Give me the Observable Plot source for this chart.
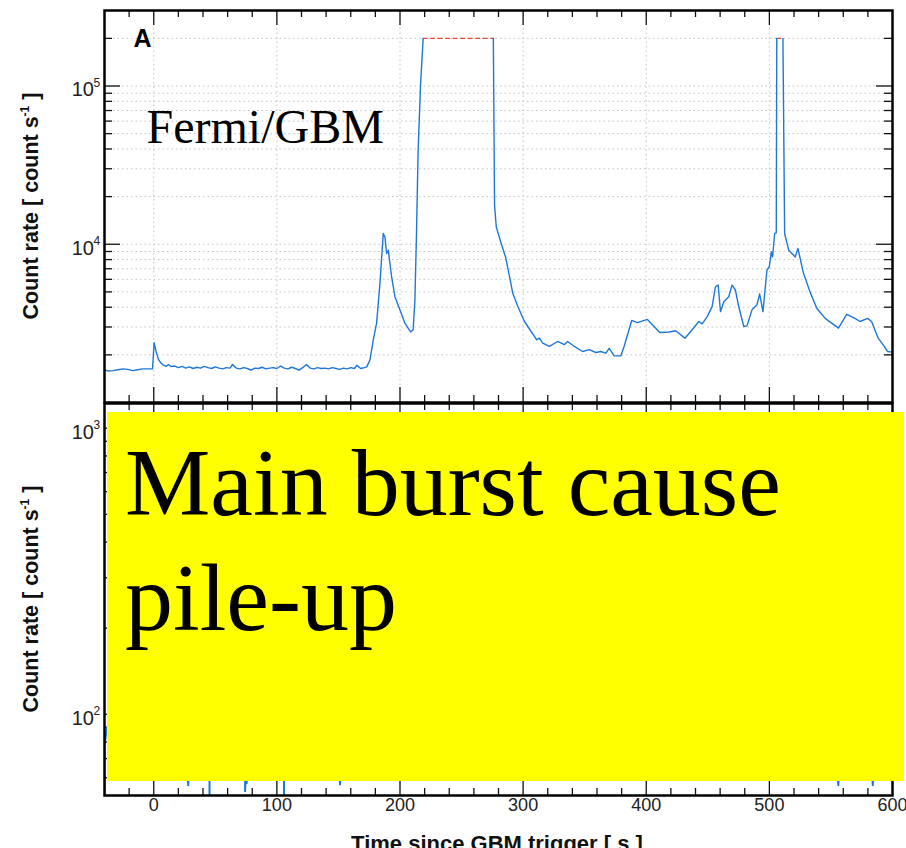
<!DOCTYPE html>
<html>
<head>
<meta charset="utf-8">
<script src="https://cdn.jsdelivr.net/npm/d3@7"></script>
<script src="https://cdn.jsdelivr.net/npm/@observablehq/plot@0.6"></script>
<style>
  html, body { margin: 0; padding: 0; background: #fff; overflow: hidden; }
  #wrap { position: relative; width: 906px; height: 848px; background: #fff; overflow: hidden; font-family: "Liberation Sans", Arial, Helvetica, sans-serif; }
  .panel { position: absolute; left: 0; }
  .ytitle { position: absolute; transform: translate(-50%, -50%) rotate(-90deg); white-space: nowrap; font-weight: bold; font-size: 21.5px; color: #111; }
  .ytitle sup { font-size: 12px; }
  .xtitle { position: absolute; left: 497px; top: 833px; transform: translateX(-50%); white-space: nowrap; font-weight: bold; font-size: 22px; line-height: 22px; color: #111; }
  #note { position: absolute; left: 107px; top: 412px; width: 797px; height: 369px; background: #ffff00; font-family: "Liberation Serif", "Times New Roman", serif; font-size: 96px; line-height: 115px; color: #000; box-sizing: border-box; padding: 13px 0 0 18px; white-space: nowrap; }
</style>
</head>
<body>
<div id="wrap">
  <div id="top" class="panel" style="top:0px"></div>
  <div id="bottom" class="panel" style="top:402px"></div>
  <div class="ytitle" style="left:31px; top:206px">Count rate [ count s<sup>-1</sup> ]</div>
  <div class="ytitle" style="left:31px; top:599px">Count rate [ count s<sup>-1</sup> ]</div>
  <div class="xtitle">Time since GBM trigger [ s ]</div>
  <div id="note">Main burst cause<br>pile-up</div>
</div>
<script>
// ---- Data ----
// Fermi/GBM light curve (null = saturated interval, drawn as red dashed level)
const topTime = [
  -40, -37, -33, -29, -25, -21, -17, -13, -9, -5, -1,
  0.3, 2, 4, 6, 8, 10, 12, 14, 17, 20, 23, 26, 29, 32, 35,
  38, 41, 44, 47, 50, 53, 56, 59, 62, 64, 67, 70, 73, 76, 79,
  82, 85, 88, 91, 94, 97, 100, 103, 106, 109, 112, 115, 118, 121, 124,
  127, 130, 133, 136, 139, 142, 145, 148, 151, 154, 157, 160, 163, 165, 168, 171,
  173, 175.6, 178.3, 181, 183.7, 186.4, 187.8, 189.1, 190.5, 193.2, 195.9, 199.9, 204, 208.6, 210.7, 212.1, 213.4, 214.7, 216.7, 218.8,
  247,
  275.8, 276.8, 278.2, 282.2, 285.7, 289, 291.6, 295.7, 301.1, 306.5, 311.1, 313.2, 315.9, 321.3, 328, 333.5, 336.1, 341.6, 348.3, 353.7,
  359.1, 363, 367.2, 369.9, 374, 379.3, 382, 388.2, 392.8, 400.9, 405, 411, 418.5, 423.9, 431.4, 437.3, 442.7,
  445.4, 449.5, 452.2, 453.5, 456.2, 458.4, 460.3, 463, 467, 469.7, 472.4, 475.1, 479.2, 481.8, 485.9, 489.9, 492.1, 494.8, 498, 499.9, 501.6, 502.6, 504.3, 505.6, 506.0,
  508.5,
  511, 512.4, 515.7, 521, 523.2, 527.7, 533, 538.5, 545.3, 550, 556.1, 562.8, 569.6, 573.6, 579.8, 583, 588.4, 593.3, 596, 600
];
const topRate = [
  1610, 1580, 1590, 1610, 1630, 1620, 1590, 1610, 1630, 1630, 1630,
  2390, 2080, 1860, 1770, 1720, 1690, 1740, 1690, 1700, 1660, 1690, 1650, 1680, 1640, 1670,
  1650, 1690, 1660, 1640, 1680, 1650, 1630, 1660, 1650, 1740, 1650, 1630, 1660, 1640, 1600,
  1650, 1640, 1670, 1630, 1650, 1660, 1640, 1700, 1650, 1630, 1670, 1640, 1600, 1660, 1740,
  1650, 1630, 1660, 1640, 1650, 1630, 1660, 1640, 1620, 1650, 1630, 1660, 1640, 1720, 1640, 1660,
  1680, 1860, 2490, 3170, 5660, 11700, 11100, 8740, 9170, 6230, 4660, 3850, 3170, 2790, 2880, 4450, 11700, 38900, 102000, 200000,
  null,
  200000, 17600, 12850, 10100, 8320, 6230, 4900, 4040, 3250, 2810, 2490, 2550, 2370, 2260, 2430, 2320, 2430, 2260, 2100, 2160,
  2070, 2100, 2050, 2200, 1970, 1970, 2260, 3300, 3200, 3350, 3100, 2770, 2790, 2840, 2550, 2880, 3250,
  3140, 3490, 3850, 4040, 5390, 5520, 3750, 4330, 4660, 5520, 5140, 4040, 3020, 3050, 3850, 4140, 4850, 3750, 6850, 7200, 8940, 8320, 11700, 11800, 200000,
  null,
  200000, 11700, 9170, 8320, 9400, 6550, 5000, 3940, 3400, 3200, 2950, 3610, 3400, 3250, 3400, 3250, 2550, 2260, 2100, 2080
];
// saturated intervals (red dashed)
const satStart = [218.8, 506.0];
const satEnd = [275.8, 511.0];
const satLevel = 200000;

// lower panel: only the fragments visible below the yellow box
const bottomTime = [-40, -40, -38, -37, 27.5, 28, 28.5, 29, 45.3, 45.3, 46, 74.2, 74.2, 74.4, 75.5, 76, 77, 105.8, 105.8, 106.5, 150.8, 151.3, 151.8, 152.5, 555.5, 556, 556.5, 557, 583.5, 584, 584.5, 585];
const bottomRate = [45, 78, 90, null, 62, 56.5, 62, null, 70, 40, null, 70, 53.8, 57.4, 57.4, 70, null, 70, 40, null, 62, 56.8, 62, null, 62, 56.5, 62, null, 62, 56.5, 62, null];

// axes
const xDomain = [-40, 600];
const xMajor = [0, 100, 200, 300, 400, 500];
const xMinor = [-20, 20, 40, 60, 80, 120, 140, 160, 180, 220, 240, 260, 280, 320, 340, 360, 380, 420, 440, 460, 480, 520, 540, 560, 580];
const xTickLabels = [0, 100, 200, 300, 400, 500, 600];

const topDomain = [1000, 300000];
const topMajor = [10000, 100000];
const topMinor = [2000, 3000, 4000, 5000, 6000, 7000, 8000, 9000, 20000, 30000, 40000, 50000, 60000, 70000, 80000, 90000, 200000];
const topExp = ["4", "5"];

const botDomain = [52, 1220];
const botMajor = [100, 1000];
const botMinor = [60, 70, 80, 90, 200, 300, 400, 500, 600, 700, 800, 900];
const botExp = ["2", "3"];

const W = 906, ML = 104, MR = 14;
const FW = W - ML - MR; // frame width
const BLUE = "#1f77d8";
const INK = "#111";

function axisMarks(FH, yMajor, yMinor, exps) {
  return [
    // dotted grid
    Plot.ruleY(yMajor.concat(yMinor), {stroke: "#c4c4c4", strokeWidth: 1, strokeDasharray: "1.5,3"}),
    Plot.ruleX(xMajor, {stroke: "#c4c4c4", strokeWidth: 1, strokeDasharray: "1.5,3"}),
    // inward ticks: bottom/top x
    Plot.ruleX(xMajor, {stroke: INK, strokeWidth: 1.3, insetTop: FH - 15}),
    Plot.ruleX(xMinor, {stroke: INK, strokeWidth: 1.3, insetTop: FH - 7}),
    Plot.ruleX(xMajor, {stroke: INK, strokeWidth: 1.3, insetBottom: FH - 15}),
    Plot.ruleX(xMinor, {stroke: INK, strokeWidth: 1.3, insetBottom: FH - 7}),
    // inward ticks: left/right y
    Plot.ruleY(yMajor, {stroke: INK, strokeWidth: 1.3, insetRight: FW - 16}),
    Plot.ruleY(yMinor, {stroke: INK, strokeWidth: 1.3, insetRight: FW - 8}),
    Plot.ruleY(yMajor, {stroke: INK, strokeWidth: 1.3, insetLeft: FW - 16}),
    Plot.ruleY(yMinor, {stroke: INK, strokeWidth: 1.3, insetLeft: FW - 8}),
    // y tick labels 10^n
    Plot.text(yMajor, {y: d => d, frameAnchor: "left", text: () => "10", textAnchor: "end", dx: -10.5, dy: 4, fontSize: 20, fill: "#222"}),
    Plot.text(yMajor, {y: d => d, frameAnchor: "left", text: (d, i) => exps[i], textAnchor: "start", dx: -11, dy: -3, fontSize: 12, fill: "#222"})
  ];
}

// ---- Top panel ----
const topH = 403, topMT = 10, topMB = 1;
const topFH = topH - topMT - topMB;
const topData = topTime.map((t, i) => ({t, v: topRate[i]}));
const satData = satStart.flatMap((s, i) => [{t: s, v: satLevel, k: i}, {t: satEnd[i], v: satLevel, k: i}]);

const topPlot = Plot.plot({
  width: W, height: topH,
  marginLeft: ML, marginRight: MR, marginTop: topMT, marginBottom: topMB,
  style: {fontFamily: "'Liberation Sans', Arial, sans-serif", background: "transparent", overflow: "visible"},
  x: {domain: xDomain, axis: null},
  y: {type: "log", domain: topDomain, axis: null},
  marks: [
    ...axisMarks(topFH, topMajor, topMinor, topExp),
    Plot.line(satData, {x: "t", y: "v", z: "k", stroke: "#e8463f", strokeWidth: 1.4, strokeDasharray: "4,3.5"}),
    Plot.line(topData, {x: "t", y: "v", stroke: BLUE, strokeWidth: 1.4, clip: true}),
    Plot.frame({stroke: "#000", strokeWidth: 2.5}),
    Plot.text(["A"], {frameAnchor: "top-left", dx: 29, dy: 36, lineAnchor: "bottom", textAnchor: "start", fontSize: 25, fontWeight: "bold", fill: "#000"}),
    Plot.text(["Fermi/GBM"], {frameAnchor: "top-left", dx: 42, dy: 132, lineAnchor: "bottom", textAnchor: "start", fontSize: 48, fontFamily: "'Liberation Serif', 'Times New Roman', serif", fill: "#000"})
  ]
});
document.getElementById("top").appendChild(topPlot);

// ---- Bottom panel ----
const botH = 446, botMT = 1, botMB = 53;
const botFH = botH - botMT - botMB;
const botData = bottomTime.map((t, i) => ({t, v: bottomRate[i]}));

const botPlot = Plot.plot({
  width: W, height: botH,
  marginLeft: ML, marginRight: MR, marginTop: botMT, marginBottom: botMB,
  style: {fontFamily: "'Liberation Sans', Arial, sans-serif", background: "transparent", overflow: "visible"},
  x: {domain: xDomain, axis: null},
  y: {type: "log", domain: botDomain, axis: null},
  marks: [
    ...axisMarks(botFH, botMajor, botMinor, botExp),
    Plot.line(botData, {x: "t", y: "v", stroke: BLUE, strokeWidth: 2, clip: true}),
    Plot.frame({stroke: "#000", strokeWidth: 2.5}),
    Plot.text(xTickLabels, {x: d => d, frameAnchor: "bottom", text: d => String(d), dy: 15, fontSize: 18, fill: "#222"})
  ]
});
document.getElementById("bottom").appendChild(botPlot);
</script>
</body>
</html>
